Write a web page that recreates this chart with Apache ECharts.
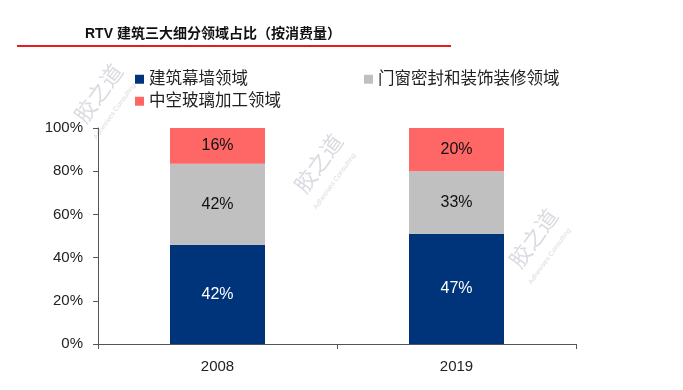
<!DOCTYPE html>
<html><head><meta charset="utf-8">
<script src="https://cdn.jsdelivr.net/npm/echarts@6/dist/echarts.min.js"></script>
<style>html,body{margin:0;padding:0;background:#fff}#c{width:683px;height:390px}</style>
</head><body><div id="c"></div>
<script>
const categories = ['2008', '2019'];
const seriesNames = ['建筑幕墙领域', '门窗密封和装饰装修领域', '中空玻璃加工领域'];
// bar heights as drawn (percent)
const curtainWall = [46, 51];
const doorWindow = [37.5, 29];
const insulatingGlass = [16.5, 20];
// printed data labels
const curtainWallLabels = ['42%', '47%'];
const doorWindowLabels = ['42%', '33%'];
const insulatingGlassLabels = ['16%', '20%'];
const yTicks = ['0%', '20%', '40%', '60%', '80%', '100%'];

const FONT = '"Liberation Sans", "Noto Sans CJK SC", sans-serif';
const colors = ['#00347A', '#C0C0C0', '#FF6666'];
const chart = echarts.init(document.getElementById('c'));

function mkSeries(name, data, labels, color, textColor) {
  return {
    name, type: 'bar', stack: 's', data, barWidth: 95,
    itemStyle: { color },
    label: { show: true, position: 'inside', color: textColor, fontSize: 16, fontFamily: FONT,
      formatter: p => labels[p.dataIndex] }
  };
}
const wm = (x, y) => ([
  { type: 'text', left: x, top: y, rotation: Math.PI * 0.3, style: { text: '胶之道', fill: 'rgba(150,150,170,0.35)', font: '22px "Noto Sans CJK SC"' }, z: 100 },
  { type: 'text', left: x + 22, top: y + 22, rotation: Math.PI * 0.3, style: { text: 'Adhesives Consulting', fill: 'rgba(150,150,170,0.35)', font: '7px "Liberation Sans"' }, z: 100 }
]);
chart.setOption({
  animation: false,
  textStyle: { fontFamily: FONT },
  title: { text: 'RTV 建筑三大细分领域占比（按消费量）', left: 80, top: 22,
    textStyle: { fontSize: 14, fontWeight: 'bold', color: '#111', fontFamily: FONT } },
  legend: [
    { data: [seriesNames[0]], left: 130, top: 66 },
    { data: [seriesNames[1]], left: 359, top: 66 },
    { data: [seriesNames[2]], left: 130, top: 88 }
  ].map(l => Object.assign(l, { icon: 'rect', itemWidth: 9, itemHeight: 9, itemGap: 6,
    textStyle: { fontSize: 16.5, color: '#222', fontFamily: FONT } })),
  grid: { left: 98, right: 107, top: 128, bottom: 46 },
  xAxis: { type: 'category', data: categories,
    axisLine: { lineStyle: { color: '#555', width: 1 } },
    axisTick: { show: true, length: 5, lineStyle: { color: '#555' } },
    axisLabel: { fontSize: 15, color: '#222', margin: 15, fontFamily: FONT } },
  yAxis: { type: 'value', min: 0, max: 100, interval: 20,
    axisLine: { show: true, lineStyle: { color: '#555', width: 1 } },
    axisTick: { show: true, length: 5, lineStyle: { color: '#555' } },
    splitLine: { show: false },
    axisLabel: { fontSize: 15, color: '#222', margin: 15, fontFamily: FONT,
      formatter: v => yTicks[Math.round(v / 20)] } },
  series: [
    mkSeries(seriesNames[0], curtainWall, curtainWallLabels, colors[0], '#fff'),
    mkSeries(seriesNames[1], doorWindow, doorWindowLabels, colors[1], '#111'),
    mkSeries(seriesNames[2], insulatingGlass, insulatingGlassLabels, colors[2], '#111')
  ],
  graphic: [
    { type: 'line', shape: { x1: 17, y1: 46, x2: 451, y2: 46 }, style: { stroke: '#E41E1E', lineWidth: 2 } },
    ...wm(70, 60), ...wm(290, 130), ...wm(505, 205)
  ]
});
</script></body></html>
